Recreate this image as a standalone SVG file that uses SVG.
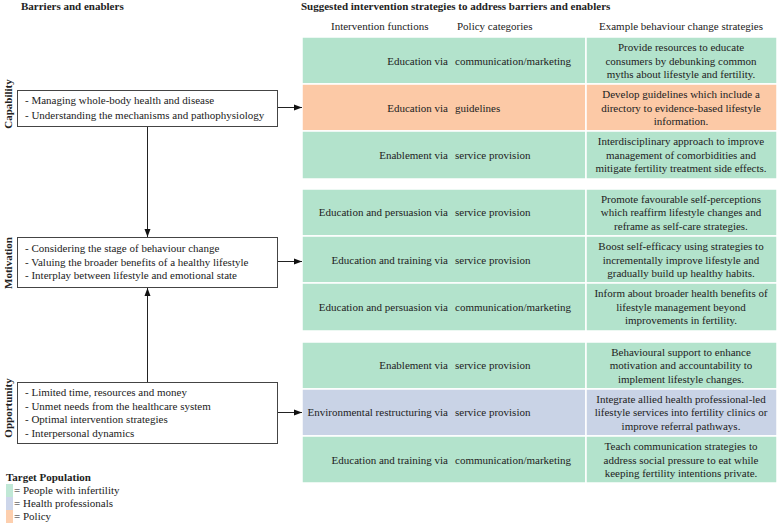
<svg xmlns="http://www.w3.org/2000/svg" width="778" height="525" viewBox="0 0 778 525">
<defs>
<style>
text{font-family:"Liberation Serif","Times New Roman",serif;font-size:11px;fill:#222}
.b{font-weight:bold}
.m{text-anchor:middle}
.e{text-anchor:end}
.g{fill:#b3e3cc;stroke:#fff;stroke-width:1.5}
.o{fill:#fcc9a6;stroke:#fff;stroke-width:1.5}
.u{fill:#c9d3e6;stroke:#fff;stroke-width:1.5}
.box{fill:#fff;stroke:#444;stroke-width:1}
.ln{stroke:#222;stroke-width:1;fill:none;marker-end:url(#ah)}
</style>
<marker id="ah" viewBox="0 0 8 8" refX="8" refY="4" markerWidth="8" markerHeight="8" markerUnits="userSpaceOnUse" orient="auto">
<path d="M0,1 L8,4 L0,7 Z" fill="#111"/>
</marker>
</defs>
<rect width="778" height="525" fill="#fff"/>

<text class="b" x="21" y="10">Barriers and enablers</text>
<text class="b" x="301" y="10">Suggested intervention strategies to address barriers and enablers</text>
<text x="331" y="30">Intervention functions</text>
<text x="457" y="30">Policy categories</text>
<text class="m" x="681" y="30">Example behaviour change strategies</text>

<g id="cap">
<rect class="box" x="17.5" y="90.5" width="260" height="36"/>
<text class="b m" transform="translate(12,104) rotate(-90)">Capability</text>
<text x="25" y="104">- Managing whole-body health and disease</text>
<text x="25" y="119">- Understanding the mechanisms and pathophysiology</text>
</g>
<g id="mot">
<rect class="box" x="17.5" y="237.5" width="260" height="50"/>
<text class="b m" transform="translate(12,263) rotate(-90)">Motivation</text>
<text x="25" y="252">- Considering the stage of behaviour change</text>
<text x="25" y="266">- Valuing the broader benefits of a healthy lifestyle</text>
<text x="25" y="279">- Interplay between lifestyle and emotional state</text>
</g>
<g id="opp">
<rect class="box" x="17.5" y="382.5" width="260" height="61"/>
<text class="b m" transform="translate(12,408) rotate(-90)">Opportunity</text>
<text x="25" y="396">- Limited time, resources and money</text>
<text x="25" y="410">- Unmet needs from the healthcare system</text>
<text x="25" y="423">- Optimal intervention strategies</text>
<text x="25" y="437">- Interpersonal dynamics</text>
</g>

<g id="r1">
<rect class="g" x="302" y="37" width="284" height="47"/><rect class="g" x="586" y="37" width="191" height="47"/>
<text class="e" x="448" y="65">Education via</text><text x="455" y="65">communication/marketing</text>
<text class="m" x="681" y="51">Provide resources to educate</text>
<text class="m" x="681" y="65">consumers by debunking common</text>
<text class="m" x="681" y="78">myths about lifestyle and fertility.</text>
</g>
<g id="r2">
<rect class="o" x="302" y="84" width="284" height="47"/><rect class="o" x="586" y="84" width="191" height="47"/>
<text class="e" x="448" y="112">Education via</text><text x="455" y="112">guidelines</text>
<text class="m" x="681" y="98">Develop guidelines which include a</text>
<text class="m" x="681" y="112">directory to evidence-based lifestyle</text>
<text class="m" x="681" y="125">information.</text>
</g>
<g id="r3">
<rect class="g" x="302" y="131" width="284" height="48"/><rect class="g" x="586" y="131" width="191" height="48"/>
<text class="e" x="448" y="159">Enablement via</text><text x="455" y="159">service provision</text>
<text class="m" x="681" y="145">Interdisciplinary approach to improve</text>
<text class="m" x="681" y="159">management of comorbidities and</text>
<text class="m" x="681" y="172">mitigate fertility treatment side effects.</text>
</g>
<g id="r4">
<rect class="g" x="302" y="189" width="284" height="47"/><rect class="g" x="586" y="189" width="191" height="47"/>
<text class="e" x="448" y="216">Education and persuasion via</text><text x="455" y="216">service provision</text>
<text class="m" x="681" y="203">Promote favourable self-perceptions</text>
<text class="m" x="681" y="216">which reaffirm lifestyle changes and</text>
<text class="m" x="681" y="230">reframe as self-care strategies.</text>
</g>
<g id="r5">
<rect class="g" x="302" y="236" width="284" height="47"/><rect class="g" x="586" y="236" width="191" height="47"/>
<text class="e" x="448" y="264">Education and training via</text><text x="455" y="264">service provision</text>
<text class="m" x="681" y="250">Boost self-efficacy using strategies to</text>
<text class="m" x="681" y="264">incrementally improve lifestyle and</text>
<text class="m" x="681" y="277">gradually build up healthy habits.</text>
</g>
<g id="r6">
<rect class="g" x="302" y="283" width="284" height="48"/><rect class="g" x="586" y="283" width="191" height="48"/>
<text class="e" x="448" y="311">Education and persuasion via</text><text x="455" y="311">communication/marketing</text>
<text class="m" x="681" y="297">Inform about broader health benefits of</text>
<text class="m" x="681" y="311">lifestyle management beyond</text>
<text class="m" x="681" y="324">improvements in fertility.</text>
</g>
<g id="r7">
<rect class="g" x="302" y="342" width="284" height="47"/><rect class="g" x="586" y="342" width="191" height="47"/>
<text class="e" x="448" y="369">Enablement via</text><text x="455" y="369">service provision</text>
<text class="m" x="681" y="356">Behavioural support to enhance</text>
<text class="m" x="681" y="369">motivation and accountability to</text>
<text class="m" x="681" y="383">implement lifestyle changes.</text>
</g>
<g id="r8">
<rect class="u" x="302" y="389" width="284" height="47"/><rect class="u" x="586" y="389" width="191" height="47"/>
<text class="e" x="448" y="416">Environmental restructuring via</text><text x="455" y="416">service provision</text>
<text class="m" x="681" y="403">Integrate allied health professional-led</text>
<text class="m" x="681" y="416">lifestyle services into fertility clinics or</text>
<text class="m" x="681" y="430">improve referral pathways.</text>
</g>
<g id="r9">
<rect class="g" x="302" y="436" width="284" height="47"/><rect class="g" x="586" y="436" width="191" height="47"/>
<text class="e" x="448" y="464">Education and training via</text><text x="455" y="464">communication/marketing</text>
<text class="m" x="681" y="450">Teach communication strategies to</text>
<text class="m" x="681" y="464">address social pressure to eat while</text>
<text class="m" x="681" y="477">keeping fertility intentions private.</text>
</g>

<g id="connectors">
<line class="ln" x1="278" y1="107.5" x2="302" y2="107.5"/>
<line class="ln" x1="278" y1="261.5" x2="302" y2="261.5"/>
<line class="ln" x1="278" y1="412.5" x2="302" y2="412.5"/>
<line class="ln" x1="147.5" y1="127" x2="147.5" y2="237"/>
<line class="ln" x1="147.5" y1="382" x2="147.5" y2="288"/>
</g>

<g id="legend">
<text class="b" x="6" y="481">Target Population</text>
<rect x="6" y="484" width="7" height="13" fill="#c0e8d6"/>
<rect x="6" y="497" width="7" height="13" fill="#cdd6ea"/>
<rect x="6" y="510" width="7" height="13" fill="#fdcfae"/>
<text x="14" y="494">= People with infertility</text>
<text x="14" y="507">= Health professionals</text>
<text x="14" y="520">= Policy</text>
</g>
</svg>
